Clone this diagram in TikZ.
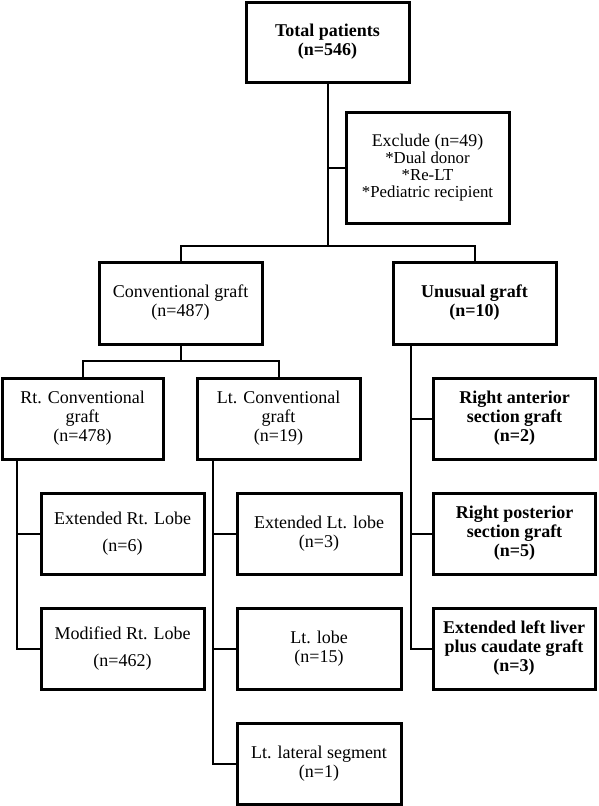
\documentclass[tikz,border=0pt]{standalone}
\usepackage{fontspec}
\setmainfont{Liberation Serif}
\begin{document}
\begin{tikzpicture}[x=1pt,y=-1pt,
  box/.style={draw, line width=3pt, align=center, inner sep=0pt,
    minimum width=163pt, minimum height=81pt,
    font=\fontsize{18}{19}\selectfont},
  boldbox/.style={box, font=\fontsize{18}{19}\selectfont\bfseries},
  widebox/.style={box, font=\fontsize{18}{27}\selectfont},
  exbox/.style={box, minimum height=111pt, font=\fontsize{16.8}{17.2}\selectfont},
  conn/.style={line width=2pt}]
\useasboundingbox (0,0) rectangle (598,806);
\node[boldbox, minimum height=80pt] (total) at (327.5,42) {Total patients\\(n=546)};
\node[exbox] (exclude) at (427.5,167.5) {{\fontsize{17.8}{17.2}\selectfont Exclude (n=49)}\\*Dual donor\\*Re-LT\\*Pediatric recipient};
\node[box, minimum height=82pt] (conv) at (180.5,303) {Conventional graft\\(n=487)};
\node[boldbox, minimum height=82pt] (unusual) at (474.5,303) {Unusual graft\\(n=10)};
\node[box, minimum width=161pt] (rt) at (82.5,418.5) {Rt. Conventional\\graft\\(n=478)};
\node[box] (lt) at (278.5,418.5) {Lt. Conventional\\graft\\(n=19)};
\node[widebox] (extrt) at (122.5,533.5) {Extended Rt. Lobe\\(n=6)};
\node[widebox] (modrt) at (122.5,648.5) {Modified Rt. Lobe\\(n=462)};
\node[box, minimum width=164pt] (extlt) at (319,533.5) {Extended Lt. lobe\\(n=3)};
\node[box, minimum width=164pt] (ltlobe) at (319,648.5) {Lt. lobe\\(n=15)};
\node[box, minimum width=164pt] (ltlat) at (319,763.5) {Lt. lateral segment\\(n=1)};
\node[boldbox, minimum width=162pt] (rant) at (514.5,418.5) {Right anterior\\section graft\\(n=2)};
\node[boldbox, minimum width=162pt] (rpost) at (514.5,533.5) {Right posterior\\section graft\\(n=5)};
\node[boldbox, minimum width=162pt] (extleft) at (514,648.5) {Extended left liver\\plus caudate graft\\(n=3)};
% connectors
\coordinate (b1) at (327.5,246);
\coordinate (b2) at (180.5,361);
\draw[conn] (total.south) -- (b1);
\draw[conn] (exclude.west) -- (exclude.west -| total.south);
\draw[conn] (conv.north) |- (b1) -| (unusual.north);
\draw[conn] (conv.south) -- (b2);
\draw[conn] (rt.north) |- (b2) -| (lt.north);
\coordinate (rtv) at ([xshift=-65.5pt]rt.south);
\coordinate (ltv) at ([xshift=-65.5pt]lt.south);
\coordinate (unv) at ([xshift=-63.5pt]unusual.south);
\draw[conn] (rtv) |- (modrt.west);
\draw[conn] (rtv |- extrt.west) -- (extrt.west);
\draw[conn] (ltv) |- (ltlat.west);
\draw[conn] (ltv |- extlt.west) -- (extlt.west);
\draw[conn] (ltv |- ltlobe.west) -- (ltlobe.west);
\draw[conn] (unv) |- (extleft.west);
\draw[conn] (unv |- rant.west) -- (rant.west);
\draw[conn] (unv |- rpost.west) -- (rpost.west);
\end{tikzpicture}
\end{document}
